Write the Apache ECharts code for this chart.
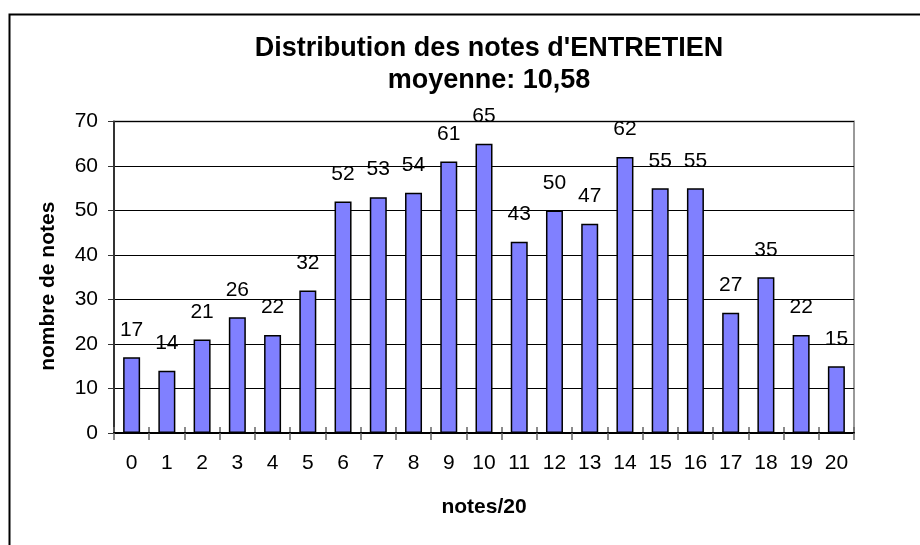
<!DOCTYPE html>
<html>
<head>
<meta charset="utf-8">
<script src="https://cdn.jsdelivr.net/npm/echarts@6/dist/echarts.min.js"></script>
<style>
html,body{margin:0;padding:0;background:#fff;}
#chart{width:920px;height:545px;}
</style>
</head>
<body>
<div id="chart"></div>
<script>
var categories = ['0','1','2','3','4','5','6','7','8','9','10','11','12','13','14','15','16','17','18','19','20'];
var counts = [17,14,21,26,22,32,52,53,54,61,65,43,50,47,62,55,55,27,35,22,15];
var yTicks = {min: 0, max: 70, interval: 10};
var titleText = "Distribution des notes d'ENTRETIEN";
var subtitleText = 'moyenne: 10,58';
var xName = 'notes/20';
var yName = 'nombre de notes';

var font = 'Liberation Sans, Arial, sans-serif';
var chart = echarts.init(document.getElementById('chart'), null, {renderer: 'canvas'});
chart.setOption({
  animation: false,
  backgroundColor: '#fff',
  graphic: [{
    type: 'rect', left: 7, top: 12, z: -1,
    shape: {width: 1000, height: 1000},
    style: {fill: 'none', stroke: '#000', lineWidth: 2}
  }],
  title: {
    text: titleText + '\n' + subtitleText,
    left: 484, top: 28, textAlign: 'center',
    textStyle: {fontFamily: font, fontWeight: 'bold', fontSize: 27, lineHeight: 32, color: '#000'}
  },
  grid: {
    left: 114, right: 66, top: 121.5, bottom: 112,
    show: true, borderColor: '#999', borderWidth: 2, backgroundColor: 'transparent'
  },
  xAxis: [{
    type: 'category', data: categories,
    name: xName, nameLocation: 'middle', nameGap: 74,
    nameTextStyle: {fontFamily: font, fontWeight: 'bold', fontSize: 21, color: '#000', verticalAlign: 'middle'},
    axisLine: {lineStyle: {color: '#000', width: 2}},
    axisTick: {show: true, length: 7, lineStyle: {color: '#666', width: 1.5}},
    axisLabel: {fontFamily: font, fontSize: 21, color: '#000', margin: 20},
    z: 5
  }, {
    type: 'category', data: categories, position: 'bottom',
    axisLine: {show: false},
    axisTick: {show: true, inside: true, length: 6, lineStyle: {color: '#666', width: 1.5}},
    axisLabel: {show: false}
  }],
  yAxis: {
    type: 'value', min: yTicks.min, max: yTicks.max, interval: yTicks.interval,
    name: yName, nameLocation: 'middle', nameGap: 66, nameRotate: 90,
    nameTextStyle: {fontFamily: font, fontWeight: 'bold', fontSize: 21, color: '#000', verticalAlign: 'middle', padding: [0, 18, 0, 0]},
    axisLine: {show: true, lineStyle: {color: '#333', width: 2}},
    axisTick: {show: true, length: 6, lineStyle: {color: '#333', width: 1}},
    axisLabel: {fontFamily: font, fontSize: 21, color: '#000', margin: 16},
    splitLine: {show: true, lineStyle: {color: '#000', width: 1}}
  },
  series: [{
    type: 'bar', data: counts, barWidth: 17, xAxisIndex: 0,
    itemStyle: {color: '#8080FF', borderColor: '#000', borderWidth: 1.5},
    label: {show: true, position: 'top', distance: 17, fontFamily: font, fontSize: 21, color: '#000'}
  }]
});
</script>
</body>
</html>
